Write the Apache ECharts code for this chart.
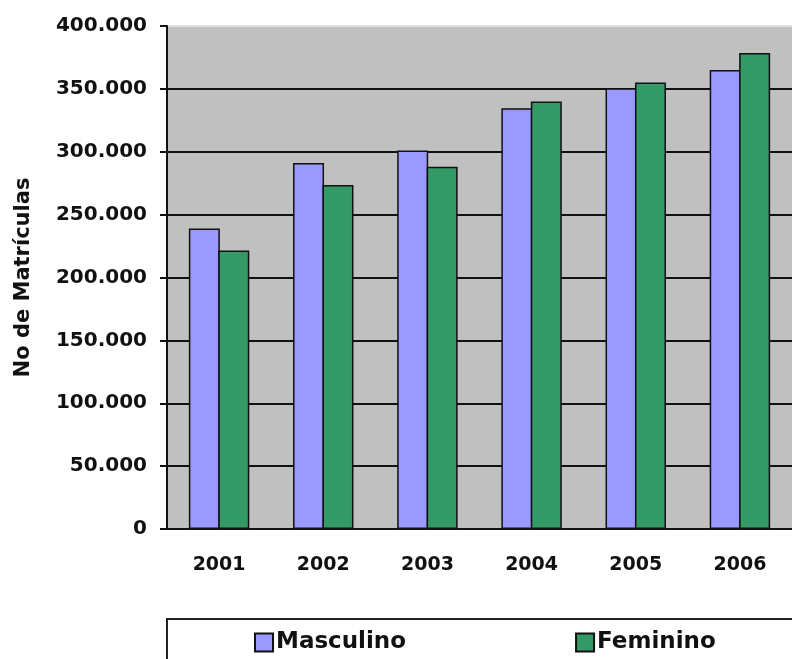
<!DOCTYPE html>
<html>
<head>
<meta charset="utf-8">
<script src="https://cdn.jsdelivr.net/npm/echarts@6/dist/echarts.min.js"></script>
<style>
  html, body { margin: 0; padding: 0; background: #fff; }
  #chart { width: 792px; height: 659px; }
</style>
</head>
<body>
<div id="chart"></div>
<script>
// matriculas por sexo, 2001-2006
var anos = ['2001', '2002', '2003', '2004', '2005', '2006'];
var masculino = [239000, 291000, 301000, 334500, 350500, 365000];
var feminino = [221500, 273500, 288000, 340000, 355000, 378500];
var nomes = ['Masculino', 'Feminino'];

var fonte = 'DejaVu Sans';

function fmt(v) {
  return String(v).replace(/\B(?=(\d{3})+(?!\d))/g, '.');
}

var myChart = echarts.init(document.getElementById('chart'));
var option = {
  animation: false,
  grid: {
    left: 167,
    top: 26,
    width: 635,
    height: 503,
    show: true,
    backgroundColor: '#c0c0c0',
    borderWidth: 0
  },
  legend: {
    data: nomes,
    orient: 'horizontal',
    left: 167,
    top: 619,
    width: 900,
    padding: [12, 120, 40, 87],
    itemGap: 169,
    itemWidth: 18,
    itemHeight: 18,
    icon: 'rect',
    borderColor: '#222',
    borderWidth: 2,
    textStyle: {
      fontFamily: fonte,
      fontWeight: 'bold',
      fontSize: 23,
      color: '#111',
      padding: [0, 0, 0, -2]
    }
  },
  xAxis: [{
    type: 'category',
    data: anos,
    axisLine: { lineStyle: { color: '#111', width: 2 } },
    axisTick: { length: 8, lineStyle: { color: '#111', width: 2 } },
    axisLabel: {
      margin: 27,
      fontFamily: fonte,
      fontWeight: 'bold',
      fontSize: 19,
      color: '#111'
    }
  }],
  yAxis: [{
    type: 'value',
    min: 0,
    max: 400000,
    interval: 50000,
    name: 'No de Matrículas',
    nameLocation: 'middle',
    nameGap: 133,
    nameTextStyle: {
      fontFamily: fonte,
      fontWeight: 'bold',
      fontSize: 21,
      color: '#111'
    },
    axisLine: { show: true, lineStyle: { color: '#111', width: 2 } },
    axisTick: { show: true, length: 7, lineStyle: { color: '#111', width: 2 } },
    axisLabel: {
      margin: 20,
      fontFamily: fonte,
      fontWeight: 'bold',
      fontSize: 20,
      color: '#111',
      formatter: fmt
    },
    splitLine: {
      show: true,
      lineStyle: {
        color: ['#111', '#111', '#111', '#111', '#111', '#111', '#111', '#111', '#e0e0e0'],
        width: 2
      }
    }
  }],
  series: [{
    name: nomes[0],
    type: 'bar',
    data: masculino,
    barGap: '-5%',
    barWidth: 31,
    itemStyle: { color: '#9999ff', borderColor: '#111', borderWidth: 1.5 }
  }, {
    name: nomes[1],
    type: 'bar',
    data: feminino,
    barGap: '-5%',
    barWidth: 31,
    itemStyle: { color: '#339966', borderColor: '#111', borderWidth: 1.5 }
  }]
};
myChart.setOption(option);
</script>
</body>
</html>
